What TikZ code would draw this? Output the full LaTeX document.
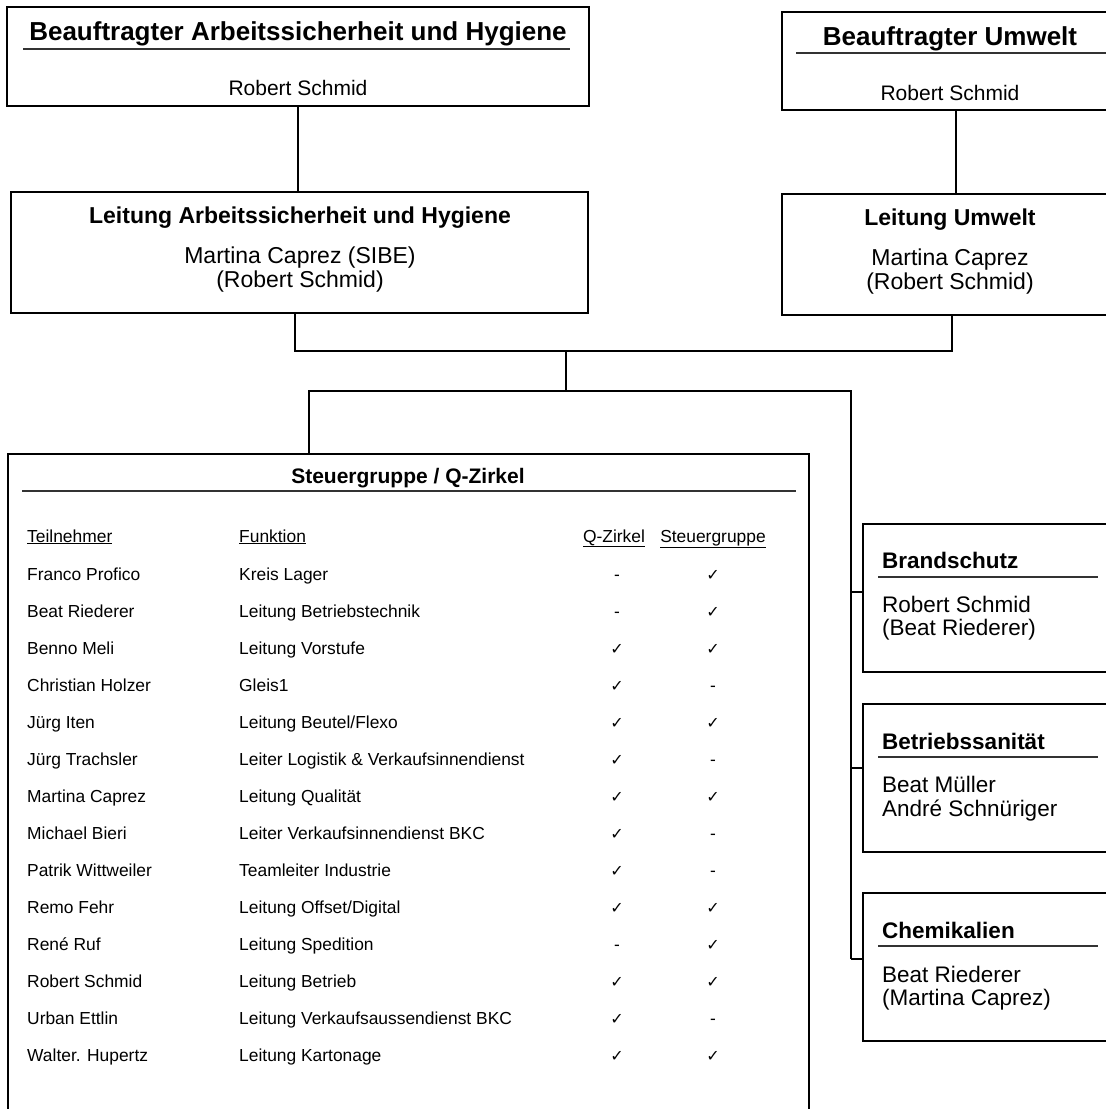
\documentclass[tikz,border=0pt]{standalone}
\usepackage{fontspec}
\setmainfont{Liberation Sans}
\newfontfamily\symf{DejaVu Sans}
\newcommand\fsz[2]{\fontsize{#1}{#2}\selectfont}
\tikzset{
  box/.style={draw, rectangle, line width=2.7pt, inner sep=0pt},
  conn/.style={draw, line width=1.6pt},
  uline/.style={draw, line width=1.1pt, black!80},
  txt/.style={inner sep=0pt, anchor=base},
  ltxt/.style={inner sep=0pt, anchor=base west},
  toptitle/.style={txt, font=\fsz{26}{28}\bfseries},
  topbody/.style={txt, font=\fsz{21}{24}},
  midtitle/.style={txt, font=\fsz{23}{25}\bfseries},
  midbody/.style={txt, font=\fsz{23}{24}},
  sidetitle/.style={ltxt, font=\fsz{22.5}{24}\bfseries},
  sidebody/.style={ltxt, font=\fsz{22.5}{24}},
  tbltitle/.style={txt, font=\fsz{21}{24}\bfseries},
  cell/.style={ltxt, font=\fsz{17.4}{20}},
  tickcell/.style={txt, font=\fsz{17.4}{20}},
}
\newcommand\trow[6]{%
  \node[cell] (n#1) at (27,#2) {#3};
  \node[cell] (f#1) at (239,#2) {#4};
  \node[tickcell] (q#1) at (617,#2) {#5};
  \node[tickcell] (s#1) at (713,#2) {#6};
}
\newcommand\ok{{\symf\fsz{16}{16}✓}}
\begin{document}
\begin{tikzpicture}[x=1pt,y=-1pt]
\useasboundingbox (0,0) rectangle (1106,1109);
\clip (0,0) rectangle (1106,1109);
\fill[white] (0,0) rectangle (1106,1109);

% boxes
\node[box, minimum width=582, minimum height=99] (b1) at (298,56.5) {};
\node[box, minimum width=326, minimum height=98] (b2) at (945,61) {};
\node[box, minimum width=577, minimum height=121] (b3) at (299.5,252.5) {};
\node[box, minimum width=326, minimum height=121] (b4) at (945,254.5) {};
\node[box, minimum width=801, minimum height=700] (tbl) at (408.5,804) {};
\node[box, minimum width=246, minimum height=148] (bs) at (986,598) {};
\node[box, minimum width=246, minimum height=148] (bsan) at (986,778) {};
\node[box, minimum width=246, minimum height=148] (chem) at (986,967) {};

% box texts
\node[toptitle] (t1) at (298,40) {Beauftragter Arbeitssicherheit und Hygiene};
\draw[uline] (23,49) -- (570,49);
\node[topbody] (t1b) at (298,95) {Robert Schmid};

\node[toptitle] (t2) at (950,45) {Beauftragter Umwelt};
\draw[uline] (796,53) -- (1106,53);
\node[topbody] (t2b) at (950,100) {Robert Schmid};

\node[midtitle] (t3) at (300,223) {Leitung Arbeitssicherheit und Hygiene};
\node[midbody] (t3a) at (300,263) {Martina Caprez (SIBE)};
\node[midbody] (t3b) at (300,287) {(Robert Schmid)};

\node[midtitle] (t4) at (950,225) {Leitung Umwelt};
\node[midbody] (t4a) at (950,265) {Martina Caprez};
\node[midbody] (t4b) at (950,289) {(Robert Schmid)};

\node[sidetitle] (t5) at (882,568) {Brandschutz};
\draw[uline] (878,577) -- (1098,577);
\node[sidebody] (t5a) at (882,612) {Robert Schmid};
\node[sidebody] (t5b) at (882,635) {(Beat Riederer)};

\node[sidetitle] (t6) at (882,749) {Betriebssanität};
\draw[uline] (878,757) -- (1098,757);
\node[sidebody] (t6a) at (882,792) {Beat Müller};
\node[sidebody] (t6b) at (882,816) {André Schnüriger};

\node[sidetitle] (t7) at (882,938) {Chemikalien};
\draw[uline] (878,946) -- (1098,946);
\node[sidebody] (t7a) at (882,982) {Beat Riederer};
\node[sidebody] (t7b) at (882,1005) {(Martina Caprez)};

% connectors
\coordinate (cx1) at (956,0);
\draw[conn] (b1.south) -- (b1.south |- b3.north);
\draw[conn] (b2.south -| cx1) -- (b4.north -| cx1);
\coordinate (j1) at (566,351);
\coordinate (l3) at (295,0);
\coordinate (r4) at (952,0);
\draw[conn] (b3.south -| l3) |- (j1);
\draw[conn] (b4.south -| r4) |- (j1);
\coordinate (j2) at (566,391);
\draw[conn] (j1) -- (j2);
\coordinate (tx) at (309,0);
\coordinate (tr) at (851,391);
\coordinate (tend) at (851,959);
\draw[conn] (tbl.north -| tx) |- (tr) -- (tend);
\coordinate (k1) at (851,592);
\coordinate (k2) at (851,768);
\draw[conn] (k1) -- (k1 -| bs.west);
\draw[conn] (k2) -- (k2 -| bsan.west);
\draw[conn] (tend) -- (tend -| chem.west);

% table
\node[tbltitle] (tt) at (408,483) {Steuergruppe / Q-Zirkel};
\draw[uline] (22,491) -- (796,491);
\node[cell] (h1) at (27,542) {\underline{Teilnehmer}};
\node[cell] (h2) at (239,542) {\underline{Funktion}};
\node[tickcell] (h3) at (614,542) {\underline{Q-Zirkel}};
\node[tickcell] (h4) at (713,542) {\underline{Steuergruppe}};

\trow{1}{580}{Franco Profico}{Kreis Lager}{-}{\ok}
\trow{2}{617}{Beat Riederer}{Leitung Betriebstechnik}{-}{\ok}
\trow{3}{654}{Benno Meli}{Leitung Vorstufe}{\ok}{\ok}
\trow{4}{691}{Christian Holzer}{Gleis1}{\ok}{-}
\trow{5}{728}{Jürg Iten}{Leitung Beutel/Flexo}{\ok}{\ok}
\trow{6}{765}{Jürg Trachsler}{Leiter Logistik \& Verkaufsinnendienst}{\ok}{-}
\trow{7}{802}{Martina Caprez}{Leitung Qualität}{\ok}{\ok}
\trow{8}{839}{Michael Bieri}{Leiter Verkaufsinnendienst BKC}{\ok}{-}
\trow{9}{876}{Patrik Wittweiler}{Teamleiter Industrie}{\ok}{-}
\trow{10}{913}{Remo Fehr}{Leitung Offset/Digital}{\ok}{\ok}
\trow{11}{950}{René Ruf}{Leitung Spedition}{-}{\ok}
\trow{12}{987}{Robert Schmid}{Leitung Betrieb}{\ok}{\ok}
\trow{13}{1024}{Urban Ettlin}{Leitung Verkaufsaussendienst BKC}{\ok}{-}
\trow{14}{1061}{Walter. Hupertz}{Leitung Kartonage}{\ok}{\ok}
\end{tikzpicture}
\end{document}
